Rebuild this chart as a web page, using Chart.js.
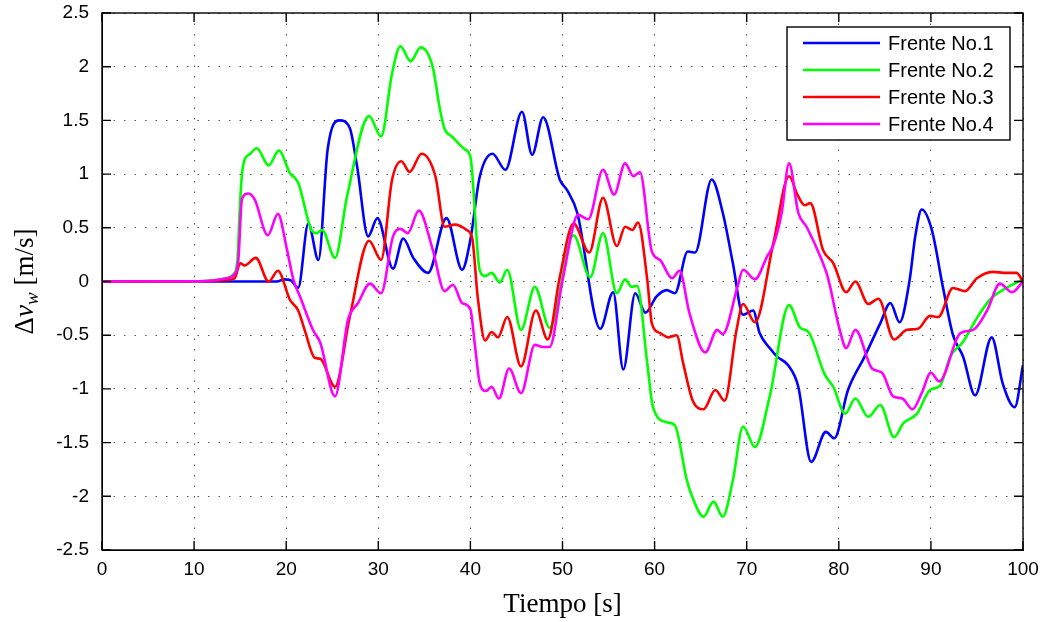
<!DOCTYPE html>
<html>
<head>
<meta charset="utf-8">
<script src="https://cdn.jsdelivr.net/npm/chart.js@4/dist/chart.umd.min.js"></script>
<style>
  html, body { margin: 0; padding: 0; background: #fff; }
  #wrap { width: 1046px; height: 622px; }
</style>
</head>
<body>
<div id="wrap"><canvas id="chart"></canvas></div>
<script>
// Frente No.1
const tiempo1 = [0, 19, 19.8, 20.5, 21.3, 22.4, 23.5, 24.5, 25.8, 26.9, 27.7, 28.9, 29.9, 31.6, 32.7, 33.8, 35.4, 37.4, 39.1, 40.0, 41.0, 42.4, 43.8, 45.6, 46.7, 47.9, 49.7, 50.5, 51.6, 54.1, 55.5, 56.6, 57.9, 59.0, 60.2, 61.3, 62.2, 63.6, 64.4, 66.2, 67.4, 68.5, 69.6, 70.7, 71.4, 72.5, 73.3, 74.5, 75.6, 77.0, 78.6, 79.5, 81.0, 82.8, 84.5, 85.6, 86.6, 87.7, 88.3, 89.0, 90.1, 91.3, 92.4, 93.5, 94.8, 96.6, 97.8, 99.1, 100];
const frente1 = [0, 0, 0.02, 0.01, -0.06, 0.54, 0.20, 1.23, 1.50, 1.43, 1.07, 0.42, 0.59, 0.12, 0.40, 0.22, 0.08, 0.59, 0.11, 0.39, 0.97, 1.19, 1.04, 1.58, 1.18, 1.53, 0.95, 0.85, 0.64, -0.44, -0.10, -0.82, -0.11, -0.29, -0.14, -0.08, -0.11, 0.28, 0.27, 0.95, 0.64, 0.17, -0.31, -0.27, -0.48, -0.62, -0.70, -0.78, -0.98, -1.68, -1.40, -1.46, -1.01, -0.70, -0.39, -0.20, -0.38, 0.02, 0.42, 0.67, 0.48, -0.05, -0.50, -0.70, -1.06, -0.52, -0.95, -1.17, -0.78];

// Frente No.2
const tiempo2 = [0, 10, 12, 13.5, 14.3, 14.7, 15.0, 15.3, 16.1, 16.8, 18.1, 19.2, 20.4, 21.3, 22.8, 23.3, 23.9, 25.3, 26.6, 29.0, 30.3, 31.5, 32.4, 33.5, 34.6, 35.9, 36.7, 37.2, 38.0, 39.4, 40.0, 41.0, 41.6, 42.3, 43.2, 44.0, 45.5, 47.0, 48.6, 51.2, 53.0, 54.4, 55.9, 56.8, 57.5, 58.1, 59.2, 59.8, 61.3, 62.2, 63.5, 64.2, 65.3, 66.4, 67.4, 68.5, 69.6, 70.9, 72.5, 74.6, 75.8, 76.7, 78.5, 79.4, 80.7, 81.8, 83.2, 84.5, 86.0, 87.0, 88.5, 89.9, 91.0, 92.1, 93.5, 95.0, 96.4, 98.2, 100];
const frente2 = [0, 0.003, 0.01, 0.03, 0.07, 0.2, 0.75, 1.07, 1.19, 1.24, 1.08, 1.22, 1.01, 0.92, 0.47, 0.45, 0.48, 0.22, 0.79, 1.54, 1.35, 1.94, 2.19, 2.05, 2.18, 2.0, 1.60, 1.42, 1.35, 1.23, 1.16, 0.11, 0.05, 0.08, -0.01, 0.11, -0.45, -0.05, -0.43, 0.43, 0.04, 0.45, -0.11, 0.02, -0.05, -0.04, -0.76, -1.16, -1.31, -1.34, -1.85, -2.03, -2.19, -2.05, -2.19, -1.85, -1.35, -1.54, -1.07, -0.22, -0.43, -0.47, -0.87, -0.98, -1.23, -1.09, -1.26, -1.15, -1.45, -1.32, -1.23, -1.01, -0.97, -0.70, -0.56, -0.34, -0.17, -0.06, 0.02];

// Frente No.3
const tiempo3 = [0, 10, 12, 13.5, 14.4, 15.0, 15.5, 16.7, 18.1, 19.1, 20.4, 21.3, 22.0, 23.1, 23.7, 25.3, 26.9, 29.0, 30.3, 31.5, 32.5, 33.4, 34.7, 36.2, 37.2, 38.3, 39.6, 40.2, 40.8, 41.6, 42.3, 43.0, 44.0, 45.5, 47.1, 48.4, 49.7, 51.2, 52.9, 54.4, 55.9, 56.8, 57.6, 58.2, 59.2, 59.7, 60.6, 61.5, 62.4, 63.1, 64.1, 65.3, 66.6, 67.6, 68.9, 69.6, 70.9, 72.9, 74.6, 75.5, 76.3, 76.9, 78.3, 79.4, 80.8, 81.8, 83.2, 84.3, 86.0, 87.4, 88.6, 89.9, 90.8, 92.4, 93.7, 95.0, 96.7, 98.2, 99.3, 100];
const frente3 = [0, 0.002, 0.005, 0.015, 0.03, 0.17, 0.15, 0.22, 0.0, 0.10, -0.17, -0.27, -0.45, -0.71, -0.72, -0.98, -0.33, 0.38, 0.20, 0.95, 1.12, 1.02, 1.19, 0.98, 0.51, 0.53, 0.48, 0.40, -0.15, -0.55, -0.47, -0.52, -0.33, -0.79, -0.27, -0.54, 0.04, 0.54, 0.27, 0.78, 0.33, 0.51, 0.48, 0.55, 0.02, -0.39, -0.48, -0.52, -0.50, -0.76, -1.10, -1.19, -1.01, -1.11, -0.45, -0.21, -0.38, 0.36, 0.98, 0.81, 0.71, 0.73, 0.29, 0.17, -0.10, 0.0, -0.21, -0.16, -0.54, -0.45, -0.44, -0.32, -0.33, -0.06, -0.09, 0.03, 0.09, 0.08, 0.08, 0.0];

// Frente No.4
const tiempo4 = [0, 10, 12, 13.5, 14.4, 14.8, 15.2, 15.9, 16.6, 18.0, 19.1, 20.1, 20.8, 21.5, 22.9, 23.7, 25.3, 26.7, 27.8, 29.1, 30.3, 31.6, 32.4, 33.2, 34.4, 35.9, 37.2, 38.1, 39.1, 40.0, 40.5, 41.0, 41.7, 42.3, 43.1, 44.2, 45.5, 47.0, 47.9, 48.6, 50.0, 51.7, 52.8, 54.4, 55.6, 56.8, 57.7, 58.4, 59.7, 60.6, 61.9, 62.7, 63.8, 65.5, 66.8, 67.4, 69.0, 69.6, 70.9, 72.2, 72.9, 73.8, 74.6, 75.6, 76.5, 78.0, 78.8, 80.1, 80.8, 81.8, 83.6, 84.7, 85.9, 86.9, 88.0, 89.0, 90.0, 90.9, 93.2, 94.6, 96.1, 97.5, 98.8, 100];
const frente4 = [0, 0.003, 0.01, 0.03, 0.07, 0.2, 0.77, 0.82, 0.76, 0.43, 0.63, 0.29, 0.01, -0.14, -0.45, -0.57, -1.07, -0.36, -0.20, -0.02, -0.11, 0.42, 0.49, 0.45, 0.66, 0.30, -0.09, -0.03, -0.20, -0.26, -0.60, -0.94, -1.02, -0.98, -1.09, -0.81, -1.04, -0.59, -0.61, -0.61, 0.01, 0.62, 0.58, 1.04, 0.81, 1.10, 0.98, 1.02, 0.28, 0.20, 0.03, 0.10, -0.30, -0.66, -0.45, -0.49, -0.05, 0.11, 0.02, 0.23, 0.34, 0.64, 1.10, 0.64, 0.51, 0.23, 0.04, -0.45, -0.62, -0.45, -0.81, -0.85, -1.07, -1.09, -1.19, -1.04, -0.85, -0.93, -0.48, -0.45, -0.27, -0.02, -0.10, 0.0];

const nombres = ['Frente No.1', 'Frente No.2', 'Frente No.3', 'Frente No.4'];
const colores = ['#0000ff', '#00ff00', '#ff0000', '#ff00ff'];
const tiempos = [tiempo1, tiempo2, tiempo3, tiempo4];
const series = [frente1, frente2, frente3, frente4];

const SANS = '"Liberation Sans", Arial, Helvetica, sans-serif';
const SERIF = '"Liberation Serif", "Times New Roman", serif';

const datasets = series.map((vals, k) => ({
    label: nombres[k],
    data: vals.map((v, i) => ({x: tiempos[k][i], y: v})),
    borderColor: colores[k],
    backgroundColor: colores[k],
    borderWidth: 2.6,
    pointRadius: 0,
    fill: false,
    cubicInterpolationMode: 'monotone',
    order: series.length - k
}));

// box, inward ticks, legend and axis titles, MATLAB style
const matlabFrame = {
    id: 'matlabFrame',
    afterDatasetsDraw(chart) {
        const {ctx, chartArea: a, scales: {x, y}} = chart;
        ctx.save();
        ctx.strokeStyle = '#000';
        ctx.lineWidth = 1.4;
        ctx.strokeRect(a.left, a.top, a.right - a.left, a.bottom - a.top);
        ctx.beginPath();
        x.ticks.forEach(t => {
            const px = x.getPixelForValue(t.value);
            ctx.moveTo(px, a.bottom); ctx.lineTo(px, a.bottom - 9);
            ctx.moveTo(px, a.top); ctx.lineTo(px, a.top + 9);
        });
        y.ticks.forEach(t => {
            const py = y.getPixelForValue(t.value);
            ctx.moveTo(a.left, py); ctx.lineTo(a.left + 9, py);
            ctx.moveTo(a.right, py); ctx.lineTo(a.right - 9, py);
        });
        ctx.stroke();
        ctx.restore();
    },
    afterDraw(chart) {
        const {ctx, chartArea: a} = chart;
        ctx.save();

        // legend
        const bx = a.right - 236, by = a.top + 14, bw = 223, bh = 113;
        ctx.fillStyle = '#fff';
        ctx.fillRect(bx, by, bw, bh);
        ctx.strokeStyle = '#000';
        ctx.lineWidth = 1.4;
        ctx.strokeRect(bx, by, bw, bh);
        ctx.font = '20px ' + SANS;
        ctx.textBaseline = 'middle';
        ctx.textAlign = 'left';
        chart.data.datasets.forEach((ds, i) => {
            const ry = by + 16 + i * 27;
            ctx.strokeStyle = ds.borderColor;
            ctx.lineWidth = 2.6;
            ctx.beginPath();
            ctx.moveTo(bx + 16, ry);
            ctx.lineTo(bx + 93, ry);
            ctx.stroke();
            ctx.fillStyle = '#000';
            ctx.fillText(ds.label, bx + 101, ry + 1);
        });

        // x title
        ctx.fillStyle = '#000';
        ctx.font = '27px ' + SERIF;
        ctx.textAlign = 'center';
        ctx.textBaseline = 'alphabetic';
        ctx.fillText('Tiempo [s]', (a.left + a.right) / 2, 612);

        // y title: Δv_w [m/s]
        const parts = [
            {t: 'Δ', f: '27px ' + SERIF, dy: 0},
            {t: 'v', f: 'italic 27px ' + SERIF, dy: 0},
            {t: 'w', f: 'italic 19px ' + SERIF, dy: 5},
            {t: ' [m/s]', f: '27px ' + SERIF, dy: 0}
        ];
        let total = 0;
        parts.forEach(p => { ctx.font = p.f; p.w = ctx.measureText(p.t).width; total += p.w; });
        ctx.translate(33, (a.top + a.bottom) / 2);
        ctx.rotate(-Math.PI / 2);
        ctx.textAlign = 'left';
        let cx = -total / 2;
        parts.forEach(p => {
            ctx.font = p.f;
            ctx.fillText(p.t, cx, p.dy);
            cx += p.w;
        });
        ctx.restore();
    }
};

const config = {
    type: 'line',
    data: {datasets: datasets},
    options: {
        responsive: true,
        maintainAspectRatio: false,
        animation: false,
        layout: {padding: {left: 0, top: 13, right: 23, bottom: 0}},
        plugins: {
            legend: {display: false},
            tooltip: {enabled: false}
        },
        scales: {
            x: {
                type: 'linear',
                min: 0,
                max: 100,
                afterFit: s => { s.height = 72; s.paddingLeft = 0; s.paddingRight = 0; },
                ticks: {
                    stepSize: 10,
                    padding: 8,
                    color: '#000',
                    maxRotation: 0,
                    font: {family: SANS, size: 19}
                },
                grid: {color: '#555', lineWidth: 1, drawTicks: false},
                border: {display: true, color: '#000', width: 1, dash: [1.5, 9]}
            },
            y: {
                min: -2.5,
                max: 2.5,
                afterFit: s => { s.width = 102; s.paddingTop = 0; s.paddingBottom = 0; },
                ticks: {
                    stepSize: 0.5,
                    padding: 13,
                    color: '#000',
                    font: {family: SANS, size: 19},
                    callback: v => String(Math.round(v * 10) / 10)
                },
                grid: {color: '#555', lineWidth: 1, drawTicks: false},
                border: {display: true, color: '#000', width: 1, dash: [1.5, 9]}
            }
        }
    },
    plugins: [matlabFrame]
};

const chart = new Chart(document.getElementById('chart'), config);
</script>
</body>
</html>
